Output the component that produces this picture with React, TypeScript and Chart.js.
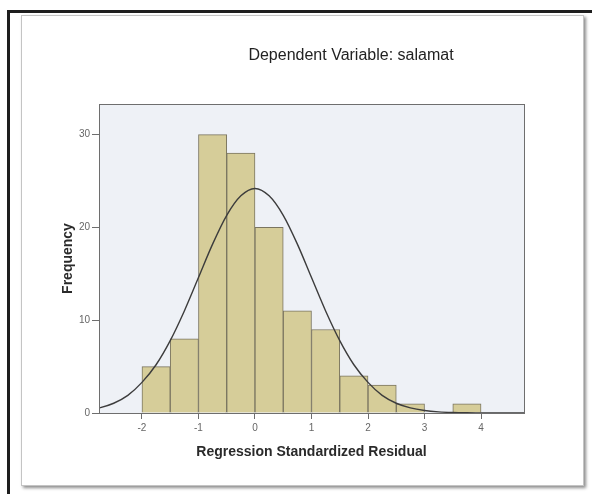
import React, { useEffect, useRef } from "react";
import { Chart, registerables } from "chart.js";

Chart.register(...registerables);

// Histogram bins (centres of 0.5-wide bins) and frequencies
const binCenters = [-1.75, -1.25, -0.75, -0.25, 0.25, 0.75, 1.25, 1.75, 2.25, 2.75, 3.25, 3.75];
const frequencies = [5, 8, 30, 28, 20, 11, 9, 4, 3, 1, 0, 1];

// Normal curve
const curveX = [-3, -2.75, -2.5, -2.25, -2, -1.75, -1.5, -1.25, -1, -0.75, -0.5, -0.25, 0, 0.25, 0.5, 0.75, 1, 1.25, 1.5, 1.75, 2, 2.25, 2.5, 2.75, 3, 3.25, 3.5, 3.75, 4, 4.25, 4.5, 4.75, 5];
const curveY = [0.27, 0.55, 1.05, 1.9, 3.3, 5.2, 7.8, 11.0, 14.6, 18.2, 21.3, 23.4, 24.2, 23.4, 21.3, 18.2, 14.6, 11.0, 7.8, 5.2, 3.3, 1.9, 1.05, 0.55, 0.27, 0.12, 0.05, 0.02, 0.01, 0, 0, 0, 0];

const xTicks = [-2, -1, 0, 1, 2, 3, 4];
const yTicks = [0, 10, 20, 30];

const titleText = "Dependent Variable: salamat";
const xTitle = "Regression Standardized Residual";
const yTitle = "Frequency";

const plotFrame = {
  id: "plotFrame",
  beforeDraw(chart: any) {
    const { ctx, chartArea: a } = chart;
    ctx.save();
    ctx.fillStyle = "#eef1f6";
    ctx.fillRect(a.left, a.top, a.right - a.left, a.bottom - a.top);
    ctx.restore();
  },
  afterDraw(chart: any) {
    const { ctx, chartArea: a } = chart;
    ctx.save();
    ctx.strokeStyle = "#6e6e6e";
    ctx.lineWidth = 1;
    ctx.strokeRect(Math.round(a.left) + 0.5, Math.round(a.top) + 0.5, Math.round(a.right - a.left), Math.round(a.bottom - a.top));
    ctx.restore();
  },
};

export default function App() {
  const ref = useRef<HTMLCanvasElement>(null);

  useEffect(() => {
    if (!ref.current) return;
    const chart = new Chart(ref.current, {
      type: "bar",
      data: {
        datasets: [
          {
            type: "line",
            data: curveX.map((x, i) => ({ x, y: curveY[i] })),
            borderColor: "#3c3c3c",
            borderWidth: 1.4,
            pointRadius: 0,
            cubicInterpolationMode: "monotone",
            fill: false,
            order: 0,
          } as any,
          {
            type: "bar",
            data: binCenters.map((x, i) => ({ x, y: frequencies[i] })),
            backgroundColor: "#d6cd99",
            borderColor: "#7a7560",
            borderWidth: 1,
            barPercentage: 1,
            categoryPercentage: 1,
            order: 1,
          } as any,
        ],
      },
      options: {
        animation: false,
        responsive: false,
        layout: { padding: { left: 0, top: 88, right: 59, bottom: 12 } },
        plugins: { legend: { display: false }, tooltip: { enabled: false }, title: { display: false } },
        scales: {
          x: {
            type: "linear",
            min: -2.76,
            max: 4.76,
            offset: false,
            afterBuildTicks: (s: any) => {
              s.ticks = xTicks.map((v) => ({ value: v }));
            },
            afterFit: (s: any) => {
              s.height = 60;
            },
            grid: { display: true, drawOnChartArea: false, drawTicks: true, tickLength: 6, tickColor: "#6e6e6e", offset: false },
            border: { display: true, color: "#6e6e6e" },
            ticks: { color: "#666", font: { family: "Liberation Sans, Arial, sans-serif", size: 10 }, padding: 3, maxRotation: 0 },
            title: {
              display: true,
              text: xTitle,
              color: "#2a2a2a",
              font: { family: "Liberation Sans, Arial, sans-serif", size: 14, weight: "bold" },
              padding: { top: 4, bottom: 12 },
            },
          },
          y: {
            type: "linear",
            min: 0,
            max: 33.3,
            afterBuildTicks: (s: any) => {
              s.ticks = yTicks.map((v) => ({ value: v }));
            },
            afterFit: (s: any) => {
              s.width = 77;
            },
            grid: { display: true, drawOnChartArea: false, drawTicks: true, tickLength: 7, tickColor: "#6e6e6e" },
            border: { display: true, color: "#6e6e6e" },
            ticks: { color: "#666", font: { family: "Liberation Sans, Arial, sans-serif", size: 10 }, padding: 2 },
            title: {
              display: true,
              text: yTitle,
              color: "#2a2a2a",
              font: { family: "Liberation Sans, Arial, sans-serif", size: 14, weight: "bold" },
              padding: { top: 38, bottom: 4 },
            },
          },
        },
      } as any,
      plugins: [plotFrame],
    });
    return () => chart.destroy();
  }, []);

  return (
    <div style={{ position: "absolute", left: 0, top: 0, width: 592, height: 494, overflow: "hidden", background: "#fff" }}>
      <div
        style={{
          position: "absolute",
          left: 7,
          top: 10,
          width: 700,
          height: 600,
          borderTop: "3px solid #1e1e1e",
          borderLeft: "3px solid #1e1e1e",
        }}
      />
      <div
        style={{
          position: "absolute",
          left: 21,
          top: 15,
          width: 561,
          height: 469,
          border: "1px solid #c4c4c4",
          boxShadow: "2px 2px 3px rgba(0,0,0,0.45)",
          background: "#fff",
        }}
      />
      <canvas ref={ref} width={561} height={469} style={{ position: "absolute", left: 22, top: 16, width: 561, height: 469 }} />
      <div
        style={{
          position: "absolute",
          left: 151,
          top: 45,
          width: 400,
          textAlign: "center",
          whiteSpace: "nowrap",
          fontFamily: "Liberation Sans, Arial, sans-serif",
          fontSize: 16,
          lineHeight: "20px",
          color: "#222",
        }}
      >
        {titleText}
      </div>
    </div>
  );
}
